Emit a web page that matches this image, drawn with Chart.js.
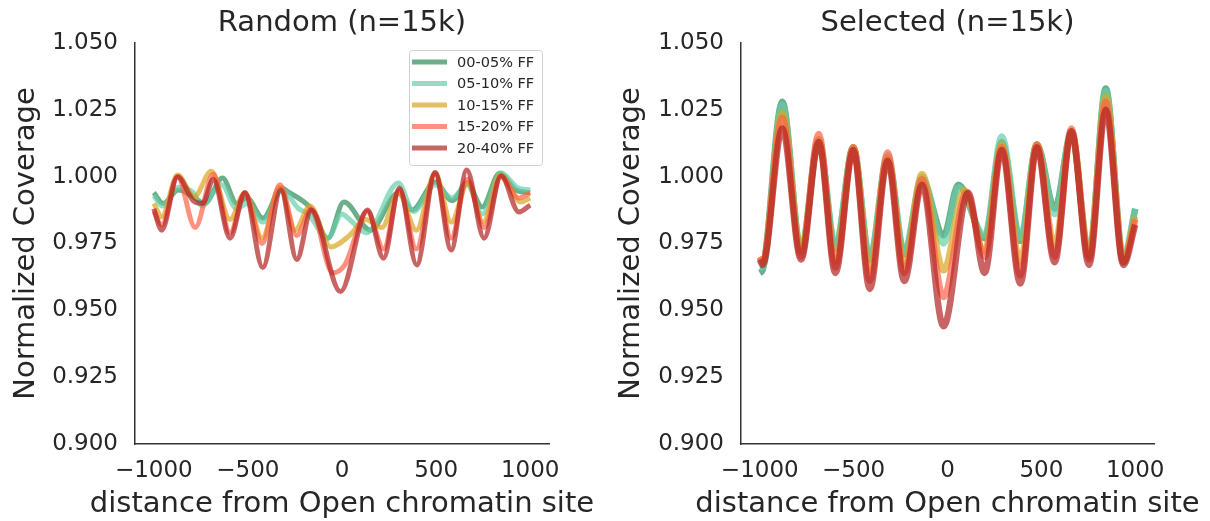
<!DOCTYPE html>
<html>
<head>
<meta charset="utf-8">
<script src="https://cdn.jsdelivr.net/npm/chart.js@4.4.1/dist/chart.umd.min.js"></script>
<style>
  html, body { margin: 0; padding: 0; background: #fff; }
  .wrap { position: relative; width: 1210px; height: 521px; }
  canvas { position: absolute; top: 0; }
  #randomChart { left: 0; }
  #selectedChart { left: 605px; }
</style>
</head>
<body>
<div class="wrap">
  <canvas id="randomChart" width="605" height="521"></canvas>
  <canvas id="selectedChart" width="605" height="521"></canvas>
</div>
<script>
// series labels and axis ticks
const seriesLabels = ['00-05% FF', '05-10% FF', '10-15% FF', '15-20% FF', '20-40% FF'];
const xTicks = [-1000, -500, 0, 500, 1000];
const yTicks = [0.9, 0.925, 0.95, 0.975, 1.0, 1.025, 1.05];

// Random (n=15k): [distance, normalized coverage]
const random_00_05 = [[-1000, 0.994], [-950, 0.990], [-870, 0.995], [-800, 0.993], [-730, 0.990], [-635, 0.9995], [-560, 0.990], [-505, 0.992], [-420, 0.9845], [-320, 0.9957], [-279, 0.994], [-210, 0.991], [-165, 0.988], [-75, 0.977], [10, 0.9905], [150, 0.980], [300, 0.994], [373, 0.9875], [495, 0.998], [585, 0.991], [665, 0.9976], [745, 0.9887], [837, 1.0013], [925, 0.995], [1000, 0.994]];
const random_05_10 = [[-1000, 0.993], [-955, 0.989], [-870, 0.996], [-790, 0.994], [-745, 0.989], [-640, 0.997], [-560, 0.988], [-505, 0.990], [-420, 0.983], [-320, 0.995], [-230, 0.988], [-180, 0.986], [-75, 0.977], [0, 0.986], [40, 0.984], [130, 0.979], [300, 0.9976], [380, 0.987], [495, 0.997], [585, 0.992], [665, 0.997], [745, 0.986], [845, 1.0015], [930, 0.996], [1000, 0.995]];
const random_10_15 = [[-1000, 0.990], [-958, 0.985], [-874, 1.0006], [-785, 0.9925], [-695, 1.002], [-595, 0.984], [-516, 0.994], [-425, 0.977], [-330, 0.996], [-250, 0.980], [-170, 0.989], [-60, 0.9737], [40, 0.978], [125, 0.984], [212, 0.981], [300, 0.994], [395, 0.980], [495, 1.0013], [580, 0.983], [668, 0.9976], [750, 0.983], [840, 1.0006], [950, 0.9905], [1000, 0.992]];
const random_15_20 = [[-1000, 0.987], [-958, 0.982], [-874, 1.000], [-780, 0.981], [-684, 1.001], [-595, 0.979], [-516, 0.994], [-425, 0.975], [-330, 0.997], [-240, 0.978], [-165, 0.988], [-50, 0.964], [15, 0.967], [135, 0.987], [221, 0.973], [305, 0.995], [395, 0.973], [495, 1.001], [580, 0.977], [665, 0.999], [755, 0.981], [845, 1.000], [940, 0.992], [1000, 0.994]];
const random_20_40 = [[-1000, 0.988], [-958, 0.980], [-874, 1.000], [-790, 0.991], [-740, 0.990], [-684, 0.999], [-595, 0.977], [-516, 0.994], [-421, 0.966], [-325, 0.995], [-240, 0.969], [-163, 0.9875], [-8, 0.957], [135, 0.9875], [221, 0.9695], [305, 0.9958], [397, 0.967], [495, 1.0016], [580, 0.9726], [663, 1.0025], [755, 0.977], [845, 1.0003], [940, 0.9868], [1000, 0.9894]];

// Selected (n=15k)
const selected_00_05 = [[-1000, 0.964], [-985, 0.965], [-880, 1.028], [-780, 0.972], [-686, 1.013], [-597, 0.973], [-502, 1.011], [-414, 0.969], [-319, 1.007], [-230, 0.971], [-136, 0.999], [-21, 0.978], [58, 0.997], [198, 0.977], [289, 1.013], [388, 0.976], [476, 1.012], [571, 0.988], [660, 1.016], [754, 0.970], [843, 1.033], [937, 0.968], [1000, 0.988]];
const selected_05_10 = [[-1000, 0.966], [-985, 0.966], [-880, 1.027], [-780, 0.973], [-686, 1.014], [-597, 0.974], [-502, 1.011], [-414, 0.970], [-319, 1.008], [-230, 0.972], [-136, 1.000], [-21, 0.975], [60, 0.996], [198, 0.978], [289, 1.015], [388, 0.977], [476, 1.012], [571, 0.986], [660, 1.017], [754, 0.972], [843, 1.032], [937, 0.970], [1000, 0.988]];
const selected_10_15 = [[-1000, 0.970], [-985, 0.968], [-880, 1.024], [-780, 0.972], [-686, 1.014], [-597, 0.968], [-502, 1.011], [-414, 0.965], [-319, 1.007], [-230, 0.967], [-136, 1.001], [-21, 0.965], [90, 0.995], [198, 0.972], [289, 1.012], [388, 0.968], [476, 1.012], [571, 0.974], [660, 1.017], [754, 0.971], [843, 1.030], [937, 0.969], [1000, 0.985]];
const selected_15_20 = [[-1000, 0.970], [-985, 0.968], [-880, 1.022], [-780, 0.970], [-686, 1.016], [-597, 0.966], [-502, 1.011], [-414, 0.961], [-319, 1.009], [-230, 0.964], [-136, 0.999], [-21, 0.955], [100, 0.994], [198, 0.970], [289, 1.011], [388, 0.963], [476, 1.012], [571, 0.970], [660, 1.018], [754, 0.969], [843, 1.028], [937, 0.968], [1000, 0.984]];
const selected_20_40 = [[-1000, 0.969], [-985, 0.967], [-880, 1.018], [-780, 0.969], [-686, 1.013], [-597, 0.964], [-502, 1.010], [-414, 0.958], [-319, 1.006], [-230, 0.961], [-136, 0.997], [-21, 0.944], [110, 0.994], [198, 0.964], [289, 1.010], [388, 0.960], [476, 1.011], [571, 0.968], [660, 1.017], [754, 0.967], [843, 1.025], [937, 0.967], [1000, 0.982]];

const lineColors = [
    'rgba(46, 139, 87, 0.7)',
    'rgba(102, 205, 170, 0.7)',
    'rgba(218, 165, 32, 0.7)',
    'rgba(255, 99, 71, 0.7)',
    'rgba(178, 34, 34, 0.7)'
];
const fontFamily = '"DejaVu Sans", Verdana, sans-serif';
const textColor = '#262626';
const axisColor = '#333333';

// panel title and x axis title, both centred on the plot area
// (drawn here so the x title is not squeezed to the axis width)
const panelText = {
    id: 'panelText',
    afterDraw(chart, args, opts) {
        const { ctx, chartArea } = chart;
        const cx = (chartArea.left + chartArea.right) / 2;
        ctx.save();
        ctx.font = `29px ${fontFamily}`;
        ctx.fillStyle = textColor;
        ctx.textAlign = 'center';
        ctx.textBaseline = 'middle';
        ctx.fillText(opts.title, cx, 23);
        ctx.fillText(opts.xTitle, cx, 504);
        ctx.restore();
    }
};

// boxed legend in the upper right corner of the plot
const boxLegend = {
    id: 'boxLegend',
    afterDraw(chart, args, opts) {
        if (!opts.show) return;
        const { ctx } = chart;
        const x = 409, y = 50, w = 133, h = 115;
        ctx.save();
        ctx.fillStyle = 'rgba(255,255,255,0.85)';
        ctx.strokeStyle = '#d0d0d0';
        ctx.lineWidth = 1;
        ctx.beginPath();
        ctx.roundRect(x + 0.5, y + 0.5, w, h, 3);
        ctx.fill();
        ctx.stroke();
        ctx.font = `14.5px ${fontFamily}`;
        ctx.textBaseline = 'middle';
        chart.data.datasets.forEach((ds, i) => {
            const rowY = 62 + i * 21.5;
            ctx.strokeStyle = ds.borderColor;
            ctx.lineWidth = 5;
            ctx.beginPath();
            ctx.moveTo(412, rowY);
            ctx.lineTo(447, rowY);
            ctx.stroke();
            ctx.fillStyle = textColor;
            ctx.fillText(ds.label, 457, rowY + 1);
        });
        ctx.restore();
    }
};

function formatX(v) {
    return v < 0 ? '\u2212' + Math.abs(v) : String(v);
}

function makeDatasets(seriesList, width) {
    return seriesList.map((pts, i) => ({
        label: seriesLabels[i],
        data: pts.map(p => ({ x: p[0], y: p[1] })),
        borderColor: lineColors[i],
        borderWidth: width,
        pointRadius: 0,
        pointHoverRadius: 0,
        fill: false,
        cubicInterpolationMode: 'monotone',
        order: seriesList.length - i
    }));
}

function makeChart(canvasId, title, seriesList, width, showLegend, axisLeft) {
    const ctx = document.getElementById(canvasId).getContext('2d');
    return new Chart(ctx, {
        type: 'line',
        data: { datasets: makeDatasets(seriesList, width) },
        options: {
            responsive: false,
            animation: false,
            events: [],
            layout: { padding: { top: 43, right: 56, bottom: 0, left: 0 } },
            plugins: {
                legend: { display: false },
                tooltip: { enabled: false },
                panelText: { title: title, xTitle: 'distance from Open chromatin site' },
                boxLegend: { show: showLegend }
            },
            scales: {
                x: {
                    type: 'linear',
                    min: -1100,
                    max: 1100,
                    afterBuildTicks: axis => { axis.ticks = xTicks.map(v => ({ value: v })); },
                    afterFit: axis => { axis.height = 77; },
                    grid: { display: false, drawTicks: false },
                    border: { display: true, color: axisColor, width: 1.5 },
                    ticks: {
                        autoSkip: false,
                        maxRotation: 0,
                        padding: 13,
                        color: textColor,
                        font: { family: fontFamily, size: 23 },
                        callback: v => formatX(v)
                    }
                },
                y: {
                    min: 0.9,
                    max: 1.05,
                    afterBuildTicks: axis => { axis.ticks = yTicks.map(v => ({ value: v })); },
                    afterFit: axis => { axis.width = axisLeft; },
                    grid: { display: false, drawTicks: false },
                    border: { display: true, color: axisColor, width: 1.5 },
                    ticks: {
                        autoSkip: false,
                        padding: 17,
                        color: textColor,
                        font: { family: fontFamily, size: 23 },
                        callback: v => v.toFixed(3)
                    },
                    title: {
                        display: true,
                        text: 'Normalized Coverage',
                        color: textColor,
                        font: { family: fontFamily, size: 29 },
                        padding: { top: 9, bottom: 0 }
                    }
                }
            }
        },
        plugins: [panelText, boxLegend]
    });
}

makeChart('randomChart', 'Random (n=15k)',
    [random_00_05, random_05_10, random_10_15, random_15_20, random_20_40], 5, true, 135);
makeChart('selectedChart', 'Selected (n=15k)',
    [selected_00_05, selected_05_10, selected_10_15, selected_15_20, selected_20_40], 6.5, false, 136);
</script>
</body>
</html>
